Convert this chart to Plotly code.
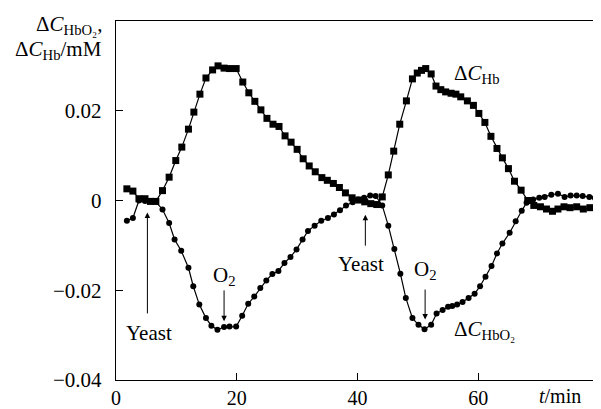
import plotly.graph_objects as go

# ---- data ----
t_hb = [1.8, 2.8, 3.8, 4.8, 5.7, 6.6, 7.7, 8.8, 9.9, 10.9, 12.0, 12.9, 13.9, 14.9,
        16.0, 16.9, 17.9, 18.8, 19.9, 21.0, 22.0, 23.0, 24.0, 25.0, 26.0, 27.0,
        28.0, 29.0, 30.0, 31.0, 32.0, 33.0, 34.1, 35.0, 36.0, 37.0, 38.0, 39.1,
        40.2, 41.2, 42.2, 43.2, 44.1, 45.1, 46.0, 47.0, 48.1, 49.1, 49.9, 50.6,
        51.3, 52.2, 53.0, 53.8, 54.6, 55.5, 56.3, 57.1, 58.2, 59.2, 60.1, 61.1,
        62.1, 63.1, 64.0, 65.0, 66.0, 67.1, 68.2, 69.2, 70.3, 71.3, 72.3, 73.2,
        74.2, 75.2, 76.3, 77.4, 78.5, 79.6]
hb = [0.0026, 0.0021, 0.0004, 0.0004, -0.0002, -0.0002, 0.0022, 0.0052, 0.0089,
      0.0119, 0.0159, 0.0197, 0.0237, 0.0273, 0.0291, 0.0300, 0.0295, 0.0294,
      0.0294, 0.0264, 0.0240, 0.0221, 0.0202, 0.0183, 0.0170, 0.0165, 0.0144,
      0.0130, 0.0114, 0.0093, 0.0077, 0.0064, 0.0051, 0.0045, 0.0038, 0.0029,
      0.0017, 0.0006, 0.0001, -0.0003, -0.0007, -0.0009, 0.0008, 0.0057, 0.0110,
      0.0170, 0.0222, 0.0271, 0.0284, 0.0290, 0.0294, 0.0282, 0.0255, 0.0247,
      0.0242, 0.0239, 0.0237, 0.0231, 0.0222, 0.0212, 0.0194, 0.0174, 0.0143,
      0.0116, 0.0095, 0.0071, 0.0043, 0.0023, 0.0000, -0.0011, -0.0014, -0.0019,
      -0.0024, -0.0019, -0.0014, -0.0016, -0.0014, -0.0019, -0.0016, -0.0014]

t_hbo2 = [1.8, 2.8, 3.8, 4.8, 5.7, 6.6, 7.7, 8.8, 9.7, 10.8, 12.0, 12.8, 13.8, 14.9,
          15.8, 16.8, 17.9, 18.8, 19.9, 20.9, 21.9, 22.9, 23.9, 24.9, 25.9, 26.9,
          27.9, 28.9, 29.9, 30.9, 31.8, 32.9, 34.0, 35.1, 36.1, 37.1, 38.1, 39.2,
          40.1, 41.1, 42.1, 43.0, 44.1, 45.1, 46.1, 47.1, 48.0, 49.1, 50.1, 51.1,
          52.2, 53.1, 54.1, 55.0, 55.7, 56.5, 57.4, 58.4, 59.4, 60.3, 61.2, 62.2,
          63.1, 64.0, 65.2, 66.2, 67.2, 68.0, 69.1, 70.1, 71.0, 72.1, 73.2, 74.3,
          75.3, 76.3, 77.3, 78.4, 79.3]
hbo2 = [-0.0045, -0.0039, 0.0000, -0.0001, -0.0002, -0.0003, -0.0020, -0.0050,
        -0.0087, -0.0112, -0.0150, -0.0191, -0.0232, -0.0262, -0.0279, -0.0288,
        -0.0282, -0.0281, -0.0281, -0.0257, -0.0230, -0.0214, -0.0195, -0.0178,
        -0.0164, -0.0157, -0.0139, -0.0126, -0.0109, -0.0087, -0.0068, -0.0056,
        -0.0045, -0.0039, -0.0031, -0.0022, -0.0011, -0.0004, 0.0002, 0.0006,
        0.0011, 0.0010, -0.0011, -0.0056, -0.0108, -0.0163, -0.0217, -0.0262,
        -0.0277, -0.0287, -0.0277, -0.0252, -0.0244, -0.0237, -0.0235, -0.0232,
        -0.0226, -0.0217, -0.0208, -0.0191, -0.0170, -0.0146, -0.0118, -0.0096,
        -0.0072, -0.0046, -0.0023, -0.0005, 0.0002, 0.0006, 0.0008, 0.0013,
        0.0015, 0.0008, 0.0011, 0.0011, 0.0010, 0.0008, 0.0006]

x_ticks = [0, 20, 40, 60]
x_ticktext = ["0", "20", "40", "60"]
y_ticks = [-0.04, -0.02, 0, 0.02]
y_ticktext = ["\u22120.04", "\u22120.02", "0", "0.02"]

FONT = "Liberation Serif, Times New Roman, serif"
FS = 21

fig = go.Figure()
fig.add_trace(go.Scatter(x=t_hbo2, y=hbo2, mode="lines+markers",
                         line=dict(color="black", width=1.2),
                         marker=dict(symbol="circle", size=6, color="black"),
                         showlegend=False))
fig.add_trace(go.Scatter(x=t_hb, y=hb, mode="lines+markers",
                         line=dict(color="black", width=1.2),
                         marker=dict(symbol="square", size=7, color="black"),
                         showlegend=False))

ann = []
# arrows (tip at x,y; tail at ax,ay)
arrows = [(5.2, -0.0027, 5.2, -0.0255),
          (17.9, -0.0269, 17.9, -0.0197),
          (41.3, -0.0032, 41.3, -0.0104),
          (51.2, -0.0265, 51.2, -0.0195)]
for x, y, axx, ayy in arrows:
    ann.append(dict(x=x, y=y, ax=axx, ay=ayy, xref="x", yref="y", axref="x", ayref="y",
                    showarrow=True, arrowhead=2, arrowsize=1.1, arrowwidth=1,
                    arrowcolor="black", text=""))
labels = [("Yeast", 5.5, -0.0295, "center"),
          ("O<sub>2</sub>", 17.9, -0.0168, "center"),
          ("Yeast", 40.6, -0.0141, "center"),
          ("O<sub>2</sub>", 51.2, -0.0154, "center"),
          ("\u0394<i>C</i><sub>Hb</sub>", 55.6, 0.0282, "left"),
          ("\u0394<i>C</i><sub>HbO\u2082</sub>", 55.6, -0.0288, "left")]
for txt, x, y, anc in labels:
    ann.append(dict(x=x, y=y, xref="x", yref="y", text=txt, showarrow=False,
                    xanchor=anc, yanchor="middle", font=dict(family=FONT, size=FS, color="black")))
# axis titles
ann.append(dict(x=-0.025, y=0.988, xref="paper", yref="paper", xanchor="right", yanchor="middle",
                text="\u0394<i>C</i><sub>HbO\u2082</sub>,", showarrow=False,
                font=dict(family=FONT, size=FS, color="black")))
ann.append(dict(x=-0.025, y=0.918, xref="paper", yref="paper", xanchor="right", yanchor="middle",
                text="\u0394<i>C</i><sub>Hb</sub>/mM", showarrow=False,
                font=dict(family=FONT, size=FS, color="black")))
ann.append(dict(x=73.6, y=-0.045, xref="x", yref="paper", xanchor="center", yanchor="middle",
                text="<i>t</i>/min", showarrow=False,
                font=dict(family=FONT, size=20, color="black")))

# page body adds an 8px offset, so the figure is sized to fit the 601x409 window
fig.update_layout(
    width=593, height=401,
    margin=dict(l=108, r=2, t=13, b=29, pad=0),
    paper_bgcolor="white", plot_bgcolor="white",
    font=dict(family=FONT, size=FS, color="black"),
    annotations=ann,
    xaxis=dict(range=[0, 80], tickvals=x_ticks, ticktext=x_ticktext,
               ticks="inside", ticklen=7, tickwidth=1.2, tickcolor="black",
               tickfont=dict(family=FONT, size=20, color="black"),
               showline=True, linecolor="black", linewidth=1.4, mirror=True,
               showgrid=False, zeroline=False, ticklabelstandoff=0, automargin=False),
    yaxis=dict(range=[-0.04, 0.04], tickvals=y_ticks, ticktext=y_ticktext,
               ticks="inside", ticklen=7, tickwidth=1.2, tickcolor="black",
               showline=True, linecolor="black", linewidth=1.4, mirror=True,
               showgrid=False, zeroline=False, ticklabelstandoff=9, automargin=False),
)

fig.write_html("out.html")
